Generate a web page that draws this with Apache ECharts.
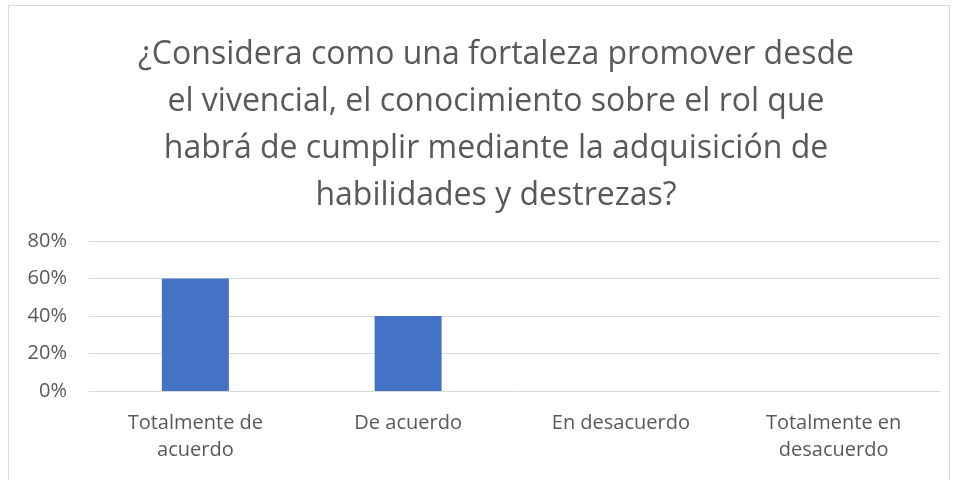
<!DOCTYPE html>
<html lang="es">

<head>
  <meta charset="UTF-8">
  <title>Fortaleza</title>
  <script src="https://cdn.jsdelivr.net/npm/echarts@6/dist/echarts.min.js"></script>
  <style>
    html,
    body {
      margin: 0;
      padding: 0;
      background: #fff;
    }

    #chart {
      width: 955px;
      height: 480px;
    }
  </style>
</head>

<body>
  <div id="chart"></div>

  <script>
    // data
    const categories = ['Totalmente de\nacuerdo', 'De acuerdo', 'En desacuerdo', 'Totalmente en\ndesacuerdo'];
    const values = [0.6, 0.4, 0, 0];
    const titleLines = [
      '¿Considera como una fortaleza promover desde',
      'el vivencial, el conocimiento sobre el rol que',
      'habrá de cumplir mediante la adquisición de',
      'habilidades y destrezas?'
    ];

    const chart = echarts.init(document.getElementById('chart'));

    const option = {
      animation: false,
      title: {
        text: titleLines.join('\n'),
        left: 491,
        textAlign: 'center',
        top: 26,
        textStyle: {
          fontFamily: 'Open Sans',
          fontSize: 32,
          fontWeight: 'normal',
          color: '#595959',
          lineHeight: 47
        }
      },
      graphic: [{
        type: 'rect',
        shape: { x: 8.5, y: 5.5, width: 941, height: 480 },
        style: { fill: 'none', stroke: '#d9d9d9', lineWidth: 1 },
        silent: true
      }],
      grid: {
        left: 89,
        right: 15,
        top: 241,
        bottom: 89
      },
      xAxis: {
        type: 'category',
        data: categories,
        axisLine: { lineStyle: { color: '#d9d9d9' } },
        axisTick: { show: false },
        axisLabel: {
          color: '#595959',
          fontFamily: 'Open Sans',
          fontSize: 20,
          lineHeight: 27,
          margin: 19
        }
      },
      yAxis: {
        type: 'value',
        min: 0,
        max: 0.8,
        interval: 0.2,
        axisLine: { show: false },
        axisTick: { show: false },
        splitLine: { lineStyle: { color: '#d9d9d9' } },
        axisLabel: {
          color: '#595959',
          fontFamily: 'Open Sans',
          fontSize: 20,
          margin: 22,
          formatter: v => Math.round(v * 100) + '%'
        }
      },
      series: [{
        type: 'bar',
        data: values,
        barWidth: '31.5%',
        itemStyle: { color: '#4472c4' }
      }]
    };

    chart.setOption(option);
  </script>
</body>

</html>
